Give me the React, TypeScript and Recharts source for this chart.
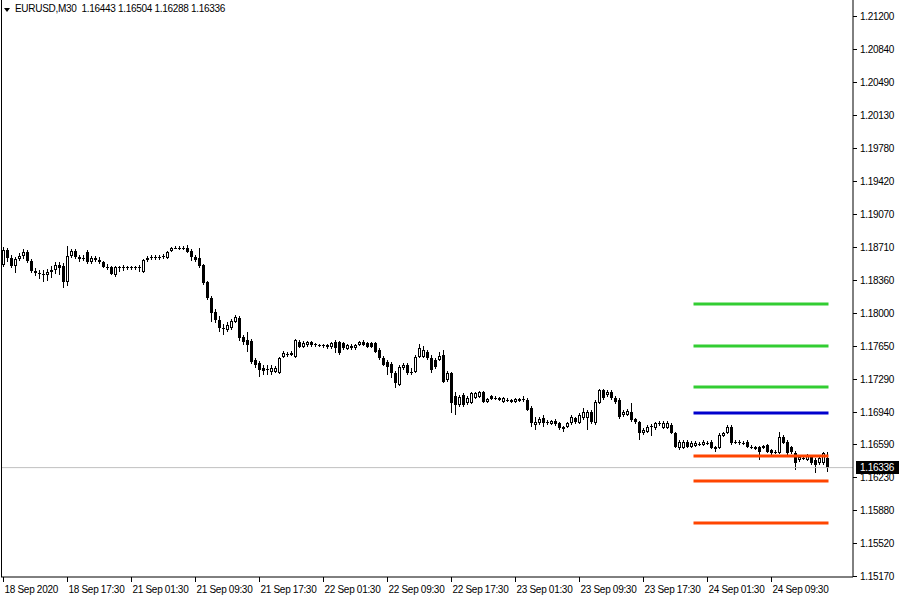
import React from 'react';
import { ComposedChart, Bar, Line, XAxis, YAxis, ReferenceLine } from 'recharts';

const symbolTitle = 'EURUSD,M30';
const timeLabels = ['18 Sep 2020', '18 Sep 17:30', '21 Sep 01:30', '21 Sep 09:30', '21 Sep 17:30', '22 Sep 01:30', '22 Sep 09:30', '22 Sep 17:30', '23 Sep 01:30', '23 Sep 09:30', '23 Sep 17:30', '24 Sep 01:30', '24 Sep 09:30'];
const barsPerLabel = 16;

// prices in points (1 point = 0.00001)
const opens = [
  118518,118680,118593,118507,118583,118615,118658,118561,118453,118432,
  118421,118410,118443,118464,118518,118507,118335,118615,118669,118604,
  118583,118658,118550,118593,118572,118550,118496,118496,118410,118496,
  118486,118496,118496,118486,118486,118443,118572,118593,118604,118593,
  118604,118593,118669,118701,118701,118690,118701,118669,118604,118593,
  118518,118335,118163,118012,117926,117839,117818,117839,117904,117947,
  117743,117710,117699,117495,117462,117409,117398,117366,117366,117355,
  117527,117549,117549,117527,117689,117635,117656,117689,117667,117656,
  117656,117656,117635,117689,117689,117678,117613,117646,117624,117656,
  117689,117678,117678,117678,117603,117516,117473,117452,117355,117226,
  117409,117441,117366,117366,117527,117527,117581,117516,117495,117495,
  117549,117279,117355,117107,117010,117118,117032,117032,117086,117096,
  117150,117042,117107,117086,117086,117042,117064,117064,117042,117053,
  117075,117064,116978,116795,116816,116870,116827,116806,116838,116816,
  116773,116773,116816,116870,116816,116870,116870,116935,116816,117032,
  117172,117118,117150,117086,117064,116902,116902,116935,116859,116827,
  116709,116719,116784,116762,116806,116762,116762,116795,116709,116547,
  116547,116612,116558,116569,116590,116579,116601,116612,116536,116547,
  116676,116709,116773,116612,116612,116601,116612,116558,116536,116558,
  116547,116579,116526,116493,116493,116665,116612,116558,116493,116418,
  116439,116418,116450,116418,116385,116385,116443,
];
const highs = [
  118712,118701,118626,118604,118647,118690,118680,118583,118486,118464,
  118464,118475,118507,118550,118550,118539,118723,118690,118690,118626,
  118626,118680,118615,118615,118604,118561,118529,118507,118507,118507,
  118518,118507,118507,118507,118518,118583,118615,118626,118626,118626,
  118636,118669,118712,118723,118723,118723,118733,118690,118626,118701,
  118529,118346,118184,118044,117969,117883,117904,117936,117979,117969,
  117764,117796,117721,117516,117484,117441,117441,117441,117430,117527,
  117592,117581,117592,117721,117710,117699,117699,117699,117678,117667,
  117667,117667,117689,117710,117699,117689,117667,117667,117667,117699,
  117710,117689,117689,117689,117624,117538,117495,117473,117376,117441,
  117462,117462,117409,117549,117667,117646,117603,117549,117516,117581,
  117603,117376,117366,117150,117118,117139,117107,117150,117150,117161,
  117161,117086,117118,117107,117096,117096,117086,117075,117086,117086,
  117107,117086,116999,116881,116881,116902,116849,116849,116859,116827,
  116784,116827,116902,116881,116924,116978,116956,116956,117064,117182,
  117182,117172,117172,117107,117086,116956,116967,117032,116870,116838,
  116762,116795,116806,116827,116838,116838,116838,116816,116719,116633,
  116633,116633,116622,116622,116612,116633,116622,116633,116569,116709,
  116719,116795,116795,116633,116633,116622,116633,116579,116569,116569,
  116579,116590,116536,116526,116719,116687,116633,116569,116515,116472,
  116472,116482,116461,116439,116461,116504,116504,
];
const lows = [
  118496,118550,118486,118432,118561,118583,118539,118432,118399,118367,
  118335,118346,118378,118421,118410,118270,118292,118593,118583,118550,
  118561,118529,118529,118550,118529,118486,118464,118410,118389,118443,
  118453,118464,118464,118464,118443,118432,118550,118572,118572,118572,
  118583,118583,118658,118690,118680,118680,118647,118561,118550,118486,
  118302,118141,117904,117893,117796,117764,117796,117818,117893,117699,
  117656,117581,117452,117409,117312,117333,117333,117333,117355,117344,
  117516,117527,117538,117516,117624,117624,117635,117635,117635,117635,
  117624,117613,117613,117570,117549,117603,117603,117603,117603,117646,
  117646,117624,117624,117570,117495,117430,117333,117301,117193,117215,
  117387,117333,117333,117355,117516,117516,117495,117355,117398,117484,
  117247,117258,116924,116902,116989,116989,117010,117021,117075,117086,
  117032,117032,117064,117064,117053,117032,117042,117032,117032,117042,
  117042,116946,116773,116741,116795,116773,116795,116795,116784,116741,
  116719,116762,116795,116806,116806,116849,116741,116806,116795,117021,
  117064,117096,117064,117021,116859,116881,116892,116827,116806,116633,
  116687,116709,116676,116741,116784,116752,116752,116698,116547,116526,
  116536,116547,116547,116558,116569,116569,116579,116536,116504,116536,
  116665,116698,116579,116590,116579,116579,116547,116536,116526,116418,
  116536,116493,116472,116482,116482,116590,116472,116482,116310,116396,
  116418,116407,116364,116278,116364,116364,116288,
];
const closes = [
  118680,118593,118507,118583,118615,118658,118561,118453,118432,118421,
  118410,118443,118464,118518,118486,118335,118615,118669,118604,118583,
  118593,118550,118593,118572,118550,118496,118486,118421,118496,118486,
  118496,118499,118486,118496,118496,118572,118593,118604,118593,118604,
  118615,118658,118701,118704,118690,118701,118658,118604,118572,118507,
  118324,118163,118001,117926,117839,117829,117872,117915,117958,117732,
  117689,117656,117473,117441,117387,117376,117387,117409,117409,117516,
  117570,117560,117570,117710,117635,117678,117689,117656,117656,117653,
  117646,117635,117678,117624,117570,117624,117656,117624,117656,117689,
  117656,117635,117635,117581,117516,117441,117419,117355,117247,117419,
  117441,117355,117355,117527,117624,117603,117516,117387,117419,117538,
  117258,117355,117032,117010,117096,117010,117086,117139,117139,117150,
  117042,117075,117075,117083,117064,117086,117061,117042,117075,117075,
  117064,116956,116816,116827,116859,116816,116813,116838,116806,116762,
  116752,116816,116881,116827,116902,116935,116935,116827,117042,117172,
  117086,117150,117086,117042,116881,116935,116946,116849,116827,116709,
  116741,116773,116773,116816,116816,116816,116816,116709,116558,116612,
  116612,116558,116601,116601,116593,116612,116598,116547,116558,116687,
  116709,116773,116601,116609,116601,116598,116558,116555,116558,116504,
  116569,116504,116493,116504,116665,116601,116493,116504,116385,116450,
  116436,116472,116385,116364,116439,116493,116336,
];

const levelPrices = [1.18098, 1.17646, 1.17204, 1.16924, 1.16461, 1.16192, 1.1574];
const levelColors = ['#32CD32', '#32CD32', '#32CD32', '#0000CD', '#FF4500', '#FF4500', '#FF4500'];
const levelFromBar = 173;
const priceTicks = [1.212, 1.2084, 1.2049, 1.2013, 1.1978, 1.1942, 1.1907, 1.1871, 1.1836, 1.18, 1.1765, 1.1729, 1.1694, 1.1659, 1.1623, 1.1588, 1.1552, 1.1517];
const priceDomain = [1.15158, 1.21372];
const emptyBarsRight = 6;

const POINT = 100000;
const W = 900;
const H = 600;
const AXIS_W = 47;
const AXIS_H = 23;
const PLOT_RIGHT = W - AXIS_W;
const PLOT_BOTTOM = H - AXIS_H;
const FONT = '"Liberation Sans", Arial, sans-serif';

const data = Array.from({ length: opens.length + emptyBarsRight }, (_, i) => {
  const row: any = { i };
  if (i < opens.length) {
    row.o = opens[i] / POINT;
    row.h = highs[i] / POINT;
    row.l = lows[i] / POINT;
    row.c = closes[i] / POINT;
    row.range = [row.l, row.h];
    if (i >= levelFromBar) levelPrices.forEach((p, k) => { row['lv' + k] = p; });
  }
  return row;
});
const last = data[opens.length - 1];

const Candle = (props: any) => {
  const { x, y, height, payload } = props;
  if (!payload || payload.o === undefined) return null;
  const { o, h, l, c } = payload;
  const span = h - l;
  const toY = (v: number) => (span > 0 ? y + ((h - v) / span) * height : y);
  const xl = Math.round(x);
  const yH = Math.round(toY(h));
  const yL = Math.round(toY(l));
  const yTop = Math.round(toY(Math.max(o, c)));
  const yBot = Math.round(toY(Math.min(o, c)));
  const bull = c >= o;
  let body;
  if (yBot - yTop <= 1) {
    body = <rect x={xl} y={yTop} width={3} height={1} fill="#000" />;
  } else if (bull) {
    body = <rect x={xl + 0.5} y={yTop + 0.5} width={2} height={yBot - yTop - 1} fill="#fff" stroke="#000" strokeWidth={1} />;
  } else {
    body = <rect x={xl} y={yTop} width={3} height={yBot - yTop} fill="#000" />;
  }
  return (
    <g>
      <rect x={xl + 1} y={yH} width={1} height={Math.max(1, yL - yH)} fill="#000" />
      {body}
    </g>
  );
};

const PriceTick = (props: any) => {
  const { y, payload } = props;
  const yy = Math.round(y) + 0.5;
  return (
    <g>
      <line x1={PLOT_RIGHT} x2={PLOT_RIGHT + 4} y1={yy} y2={yy} stroke="#000" />
      <text x={PLOT_RIGHT + 7} y={yy + 3.5} fontSize={10} fontFamily={FONT} letterSpacing={-0.3} fill="#000">
        {Number(payload.value).toFixed(5)}
      </text>
    </g>
  );
};

const TimeTick = (props: any) => {
  const { x, payload } = props;
  const xx = Math.round(x) + 0.5;
  const label = timeLabels[Math.round(payload.value / barsPerLabel)];
  return (
    <g>
      <line x1={xx} x2={xx} y1={PLOT_BOTTOM} y2={PLOT_BOTTOM + 5} stroke="#000" />
      <text x={xx + 1} y={PLOT_BOTTOM + 16} fontSize={10} fontFamily={FONT} letterSpacing={-0.3} fill="#000">
        {label}
      </text>
    </g>
  );
};

const PriceBox = (props: any) => {
  const vb = props.viewBox || {};
  const yy = Math.round(vb.y);
  return (
    <g>
      <rect x={PLOT_RIGHT + 3} y={yy - 7} width={43} height={13} fill="#000" />
      <text x={PLOT_RIGHT + 7} y={yy + 3} fontSize={10} fontFamily={FONT} letterSpacing={-0.3} fill="#fff">
        {last.c.toFixed(5)}
      </text>
    </g>
  );
};

const tickIdx = timeLabels.map((_, k) => k * barsPerLabel);

export default function App() {
  return (
    <div style={{ position: 'absolute', left: 0, top: 0, width: W, height: H, background: '#fff' }}>
      <ComposedChart width={W} height={H} data={data} margin={{ top: 0, right: 0, bottom: 0, left: 1 }}>
        <XAxis
          dataKey="i"
          type="category"
          ticks={tickIdx}
          interval={0}
          height={AXIS_H}
          axisLine={{ stroke: '#000' }}
          tickLine={false}
          tick={<TimeTick />}
        />
        <YAxis
          orientation="right"
          type="number"
          domain={priceDomain}
          allowDataOverflow
          ticks={priceTicks}
          interval={0}
          width={AXIS_W}
          axisLine={{ stroke: '#000' }}
          tickLine={false}
          tick={<PriceTick />}
        />
        <ReferenceLine y={last.c} stroke="#C0C0C0" strokeWidth={1} label={<PriceBox />} />
        <Bar dataKey="range" barSize={3} shape={<Candle />} isAnimationActive={false} />
        {levelPrices.map((_, k) => (
          <Line
            key={k}
            dataKey={'lv' + k}
            stroke={levelColors[k]}
            strokeWidth={3}
            strokeLinecap="square"
            dot={false}
            activeDot={false}
            isAnimationActive={false}
          />
        ))}
      </ComposedChart>
      <div style={{ position: 'absolute', left: 1, top: 0, width: 1, height: PLOT_BOTTOM, background: '#000' }} />
      <div style={{ position: 'absolute', left: 4, top: 8, width: 0, height: 0, borderLeft: '3px solid transparent', borderRight: '3px solid transparent', borderTop: '4px solid #000' }} />
      <div style={{ position: 'absolute', left: 15, top: 3, fontFamily: FONT, fontSize: 10, letterSpacing: -0.3, color: '#000', whiteSpace: 'pre' }}>
        {symbolTitle + '  ' + [last.o, last.h, last.l, last.c].map((v: number) => v.toFixed(5)).join(' ')}
      </div>
    </div>
  );
}
